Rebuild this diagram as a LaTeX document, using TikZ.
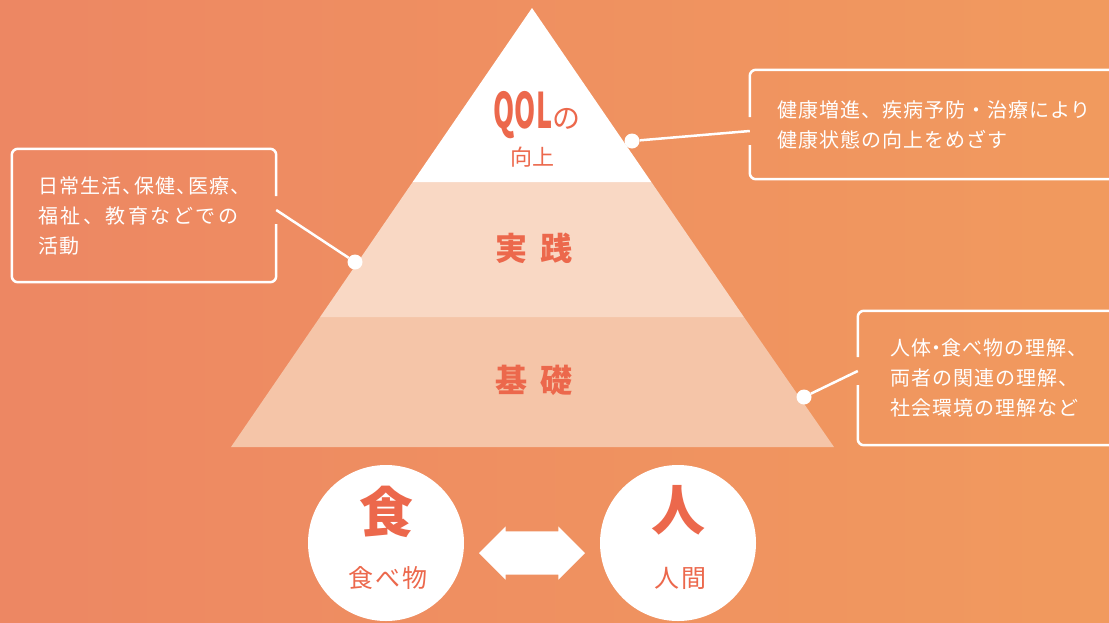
\documentclass[tikz,border=0pt]{standalone}
\usepackage{fontspec}
\setmainfont{Noto Sans CJK JP}
\usetikzlibrary{shapes.arrows}

\definecolor{bgleft}{RGB}{237,135,99}
\definecolor{bgright}{RGB}{241,154,94}
\definecolor{tiermid}{RGB}{249,216,196}
\definecolor{tierlow}{RGB}{245,197,168}
\definecolor{qolred}{RGB}{236,104,76}

\begin{document}
\begin{tikzpicture}[x=1pt, y=-1pt,
                    tier text/.style={text=qolred,font=\fontsize{32}{32}\selectfont\bfseries},
                    note box/.style={text=white,font=\fontsize{20}{30}\selectfont\addfontfeatures{LetterSpace=5},
                                     align=left,inner ysep=0pt,minimum height=#1},
                    note frame/.style={draw=white,line width=2.5pt,rounded corners=6pt},
                    note line/.style={draw=white,line width=2.5pt},
                    pin dot/.style={circle,fill=white,minimum size=15pt,inner sep=0pt},
                    main circle/.style={circle,fill=white,minimum size=156pt,inner sep=0pt},
                    big kanji/.style={text=qolred,font=\fontsize{54}{54}\selectfont\bfseries},
                    circle label/.style={text=qolred,font=\fontsize{25}{25}\selectfont\addfontfeatures{LetterSpace=8}}]

  \useasboundingbox (0,0) rectangle (1109,622);
  \clip (0,0) rectangle (1109,622);
  \shade[left color=bgleft,right color=bgright] (0,0) rectangle (1109,622);

  % pyramid
  \fill[tierlow] (231,447) -- (320.1,317) -- (743.9,317) -- (834,447) -- cycle;
  \fill[tiermid] (320.1,317) -- (412.7,182) -- (651.3,182) -- (743.9,317) -- cycle;
  \fill[white] (412.7,182) -- (532,8) -- (651.3,182) -- cycle;

  \node[text=qolred,inner sep=0pt,anchor=base] (qol) at (537,128)
       {\fontsize{49}{49}\selectfont\bfseries\scalebox{0.55}[1]{QOL}\fontsize{28}{28}\selectfont\mdseries の};
  \node[tier text,font=\fontsize{22}{22}\selectfont] (kojo) at (532,157) {向上};
  \node[tier text] (jissen) at (534,248) {実\hspace{14pt}践};
  \node[tier text] (kiso) at (534,380) {基\hspace{14pt}礎};

  % notes
  \node[pin dot] (dtop) at (632,141) {};
  \node[pin dot] (dmid) at (355,262) {};
  \node[pin dot] (dlow) at (804,397) {};

  \node[note box=133pt,inner xsep=26pt,text width=212pt] (lbox) at (144,215.5)
       {日常生活、\kern-8pt保健、\kern-8pt医療、\\
        {\addfontfeatures{LetterSpace=13}福祉、教育などでの}\\活動};
  \node[note box=109pt,inner xsep=27pt,text width=326pt] (tbox) at (940,124.5)
       {健康増進、疾病予防・治療により\\健康状態の向上をめざす};
  \node[note box=134pt,inner xsep=32pt,text width=216pt] (bbox) at (998,378)
       {人体\kern-5pt・\kern-5pt食べ物の理解、\\両者の関連の理解、\\社会環境の理解など};

  \coordinate (lgap) at ([yshift=5.5pt]lbox.east);
  \coordinate (tgap) at ([yshift=-6.5pt]tbox.west);
  \coordinate (bgap) at ([yshift=7pt]bbox.west);

  \draw[note frame] ([yshift=14pt]lgap) -- (lbox.north east) -- (lbox.north west)
        -- (lbox.south west) -- (lbox.south east) -- ([yshift=-14pt]lgap);
  \draw[note frame] ([yshift=14pt]tgap) -- (tbox.north west) -- (tbox.north east)
        -- (tbox.south east) -- (tbox.south west) -- ([yshift=-14pt]tgap);
  \draw[note frame] ([yshift=14pt]bgap) -- (bbox.north west) -- (bbox.north east)
        -- (bbox.south east) -- (bbox.south west) -- ([yshift=-14pt]bgap);

  \path[note line] (lgap) edge (dmid)
                   (tgap) edge (dtop)
                   (bgap) edge (dlow);

  % food and people
  \node[main circle] (food) at (386,543) {};
  \node[main circle] (human) at (678,543) {};
  \node[big kanji] (shoku) at (386,512) {食};
  \node[circle label] (tabemono) at (388,578) {食べ物};
  \node[big kanji] (hito) at (678,510) {人};
  \node[circle label] (ningen) at (680,578) {人間};

  \node[double arrow,fill=white,inner xsep=0pt,inner ysep=21.5pt,minimum height=106pt,
        double arrow head extend=5pt] (link) at (532,553) {};
\end{tikzpicture}
\end{document}
